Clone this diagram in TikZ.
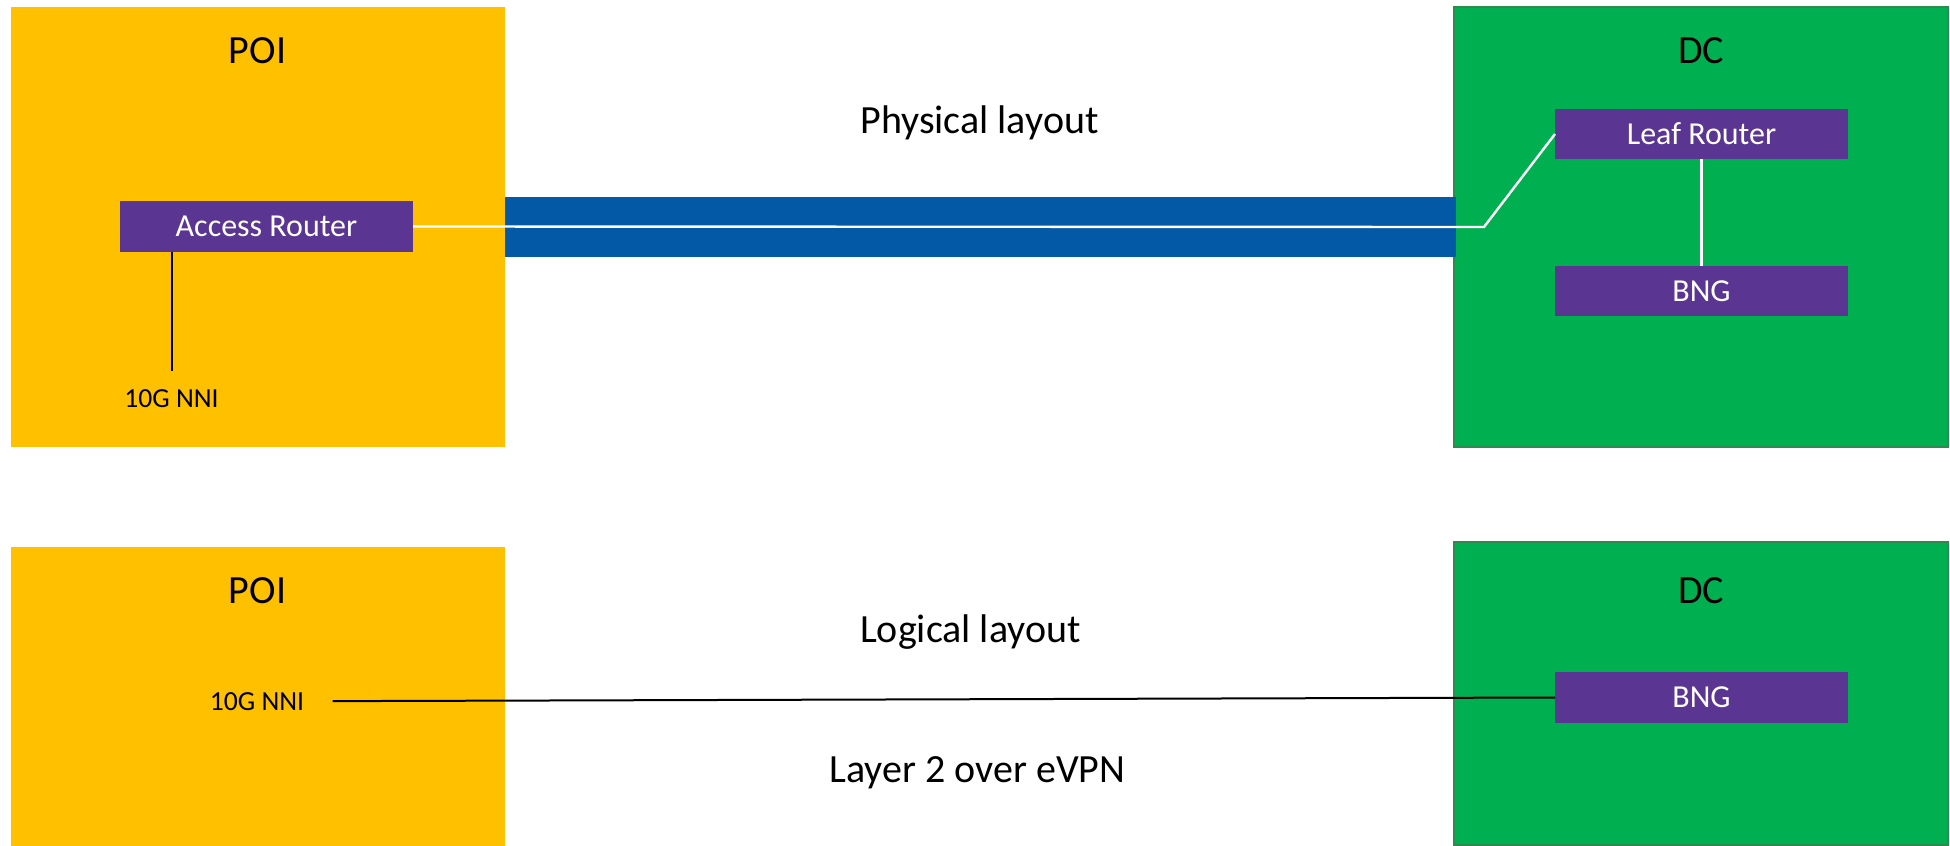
\documentclass[tikz,border=0pt]{standalone}
\usepackage{fontspec}
\setmainfont{Carlito}
\definecolor{poiyellow}{HTML}{FFC000}
\definecolor{dcgreen}{HTML}{00B050}
\definecolor{dcedge}{HTML}{2E8B4F}
\definecolor{routerpurple}{HTML}{5A3592}
\definecolor{linkblue}{HTML}{0359A6}

\tikzset{
  site/.style={rectangle, anchor=north west, inner sep=0pt, outer sep=0pt},
  poisite/.style={site, fill=poiyellow, minimum width=247.25pt},
  dcsite/.style={site, fill=dcgreen, draw=dcedge, line width=1pt, minimum width=247pt},
  device/.style={rectangle, anchor=north west, fill=routerpurple, text=white,
    font=\fontsize{16}{19}\selectfont, minimum width=146.5pt, minimum height=25.5pt,
    inner sep=0pt, outer sep=0pt},
  title/.style={anchor=base, font=\fontsize{20}{24}\selectfont, inner sep=0pt},
  port/.style={anchor=base, font=\fontsize{13.8}{16}\selectfont, inner sep=0pt},
  fibre/.style={rectangle, anchor=north west, fill=linkblue, inner sep=0pt,
    outer sep=0pt, minimum width=475.5pt, minimum height=30pt},
  whitelink/.style={draw=white, line width=1.2pt},
  blacklink/.style={draw=black, line width=1pt},
}

\begin{document}
\begin{tikzpicture}[x=0.5pt, y=-0.5pt]
\useasboundingbox (0,0) rectangle (1950,846);

% ---- physical layout ----
\node[poisite, minimum height=220.25pt] (poiA) at (10.5,6.5) {};
\node[dcsite, minimum height=220pt] (dcA) at (1454,7) {};
\node[fibre] (fibre) at (505,197) {};
\node[device] (access) at (120,201) {Access Router};
\node[device, minimum height=25pt] (leaf) at (1555,109) {Leaf Router};
\node[device, minimum height=25pt] (bngA) at (1555,266) {BNG};
\node[title] (poiAt) at (257.5,63) {POI};
\node[title] (dcAt) at (1701,63) {DC};
\node[title] (phys) at (979.5,133) {Physical layout};
\node[port] (nniA) at (171.5,407) {10G NNI};

\coordinate (turn) at (1484,227);
\draw[whitelink] (access.east) -- (turn) -- (leaf.west);
\draw[whitelink] (leaf.south) -- (bngA.north);
\draw[blacklink] (access.south -| nniA.north) -- ([yshift=9pt]nniA.north);

% ---- logical layout ----
\node[poisite, minimum height=149.75pt] (poiB) at (10.5,546.5) {};
\node[dcsite, minimum height=151.5pt] (dcB) at (1454,542) {};
\node[device] (bngB) at (1555,672) {BNG};
\node[title] (poiBt) at (257.5,603) {POI};
\node[title] (dcBt) at (1701,603) {DC};
\node[title] (logi) at (970.5,642) {Logical layout};
\node[title] (evpn) at (977.5,782) {Layer 2 over eVPN};
\node[port] (nniB) at (257,710) {10G NNI};

\draw[blacklink] ([xshift=14pt]nniB.east) -- (bngB.west);
\end{tikzpicture}
\end{document}
